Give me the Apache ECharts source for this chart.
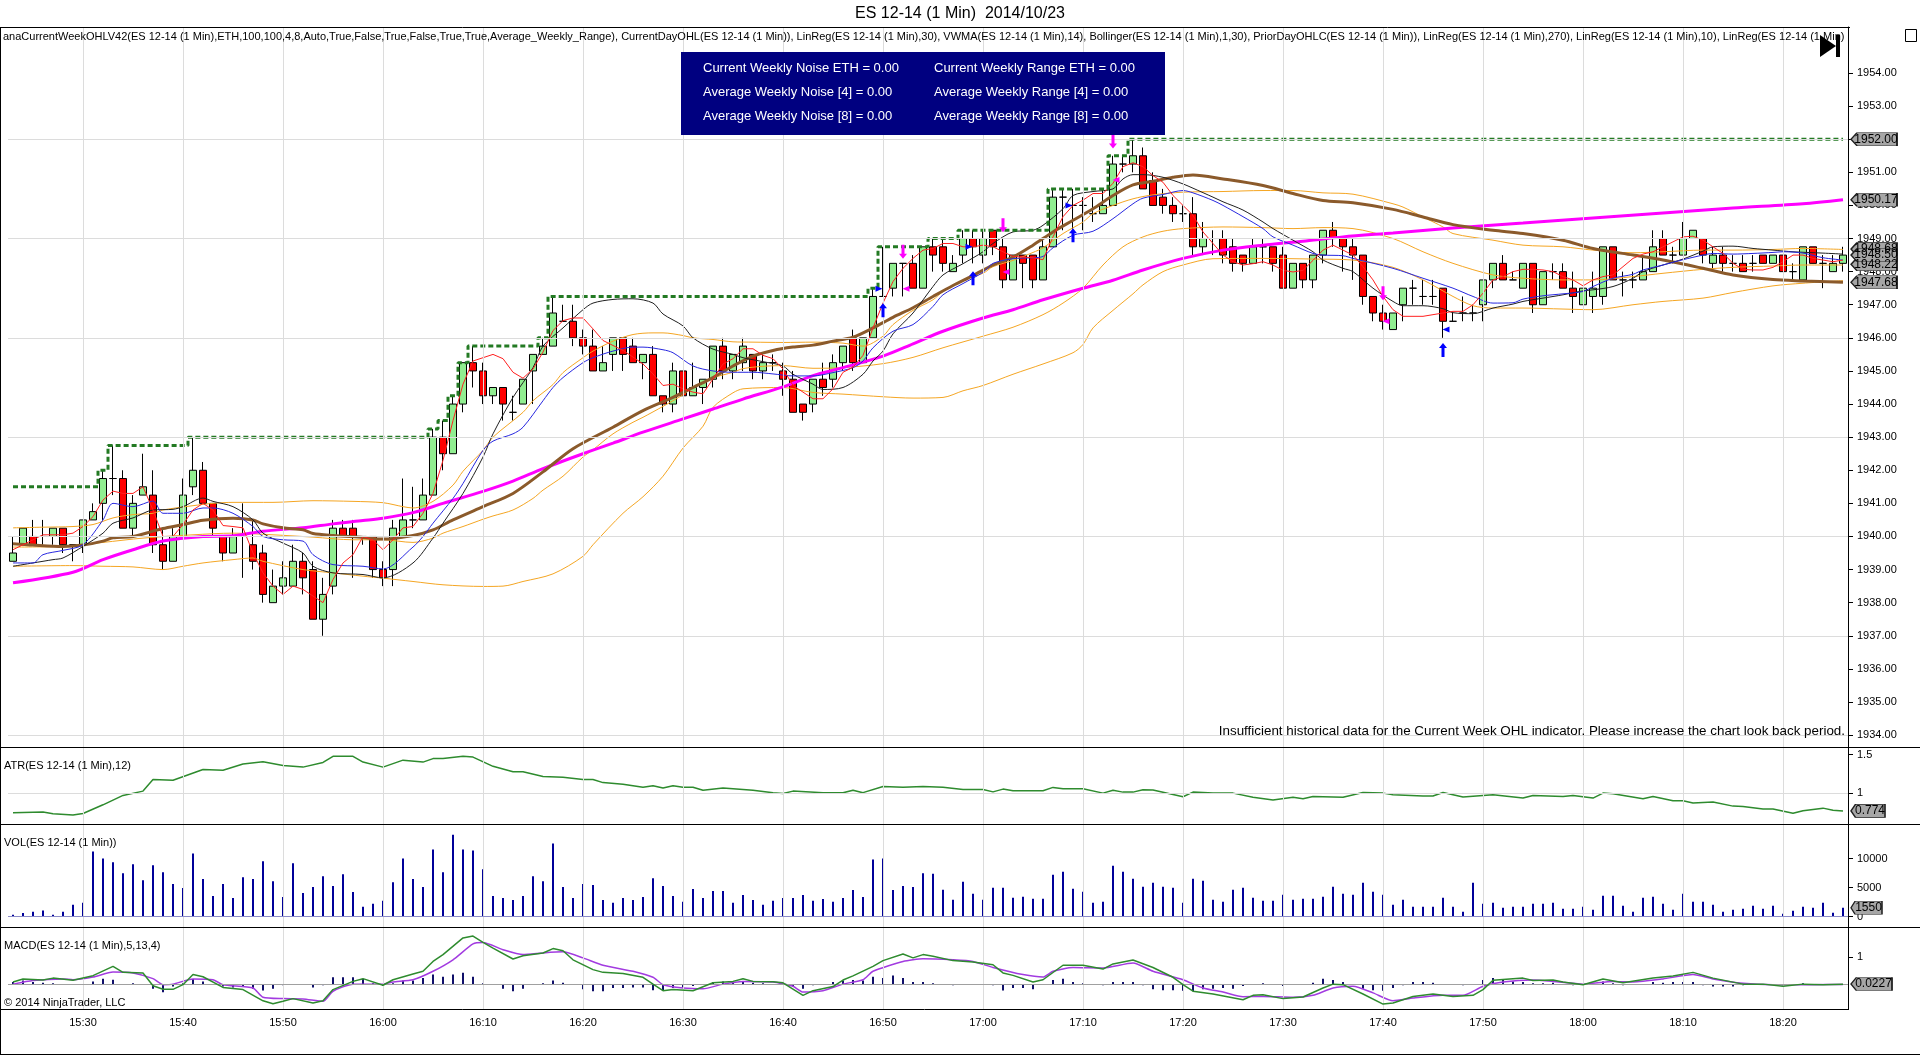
<!DOCTYPE html>
<html><head><meta charset="utf-8">
<script src="https://cdn.jsdelivr.net/npm/echarts@6/dist/echarts.min.js"></script>
<style>html,body{margin:0;padding:0;background:#fff;overflow:hidden}#c{width:1920px;height:1055px}</style>
</head><body><div id="c"></div>
<script>
// ---------- categories (1-minute bars from 15:23 to 18:26) ----------
const categories = [];
for (let k = 0; k < 184; k++) { const t = 15 * 60 + 23 + k; categories.push(Math.floor(t / 60) + ':' + String(t % 60).padStart(2, '0')); }

// ---------- price bars ----------
const opens = [
1939.25,1939.75,1940.0,1940.0,1940.0,1940.25,1939.75,1939.75,1940.5,1941.0,
1941.75,1941.75,1940.25,1941.25,1941.25,1939.75,1939.25,1940.0,1941.5,1942.0,
1941.0,1940.0,1939.5,1940.0,1939.75,1939.5,1938.0,1938.5,1938.5,1939.25,
1939.0,1937.5,1938.5,1940.25,1940.25,1940.0,1940.0,1939.0,1939.0,1940.0,
1940.5,1940.5,1941.25,1943.0,1942.5,1944.0,1945.25,1945.0,1944.25,1944.5,
1943.75,1944.0,1945.0,1945.5,1945.75,1946.5,1946.5,1946.0,1945.75,1945.0,
1945.5,1946.0,1945.75,1945.25,1945.5,1944.25,1944.0,1945.0,1944.25,1944.5,
1944.75,1945.75,1945.0,1945.25,1945.5,1945.0,1945.25,1945.0,1944.75,1944.0,
1944.0,1944.75,1944.75,1945.25,1946.0,1945.25,1946.0,1947.25,1947.5,1948.25,
1948.25,1947.5,1948.75,1948.75,1948.0,1948.5,1949.0,1948.5,1949.25,1948.75,
1947.75,1948.5,1948.5,1947.75,1948.75,1950.25,1950.0,1950.0,1949.75,1949.75,
1950.0,1951.25,1951.25,1951.5,1950.75,1950.25,1950.0,1949.75,1949.75,1948.75,
1949.0,1949.0,1948.75,1948.5,1948.25,1948.75,1948.75,1948.5,1947.5,1948.25,
1947.75,1948.5,1949.25,1949.0,1948.75,1948.5,1947.25,1946.75,1946.25,1947.0,
1947.5,1947.25,1947.25,1947.5,1946.5,1946.75,1946.75,1947.0,1947.75,1948.25,
1947.75,1947.5,1948.25,1947.0,1948.0,1948.0,1947.5,1947.0,1947.25,1947.25,
1948.75,1947.75,1947.75,1947.75,1948.0,1949.0,1948.5,1948.5,1949.0,1949.0,
1948.25,1948.5,1948.25,1948.25,1948.25,1948.5,1948.25,1948.5,1948.0,1947.75,
1948.75,1948.25,1948.0,1948.25];
const highs = [
1940.0,1940.25,1940.5,1940.5,1940.25,1940.25,1939.75,1940.5,1941.0,1942.0,
1942.75,1942.0,1941.25,1942.5,1942.0,1940.25,1940.25,1941.75,1943.0,1942.25,
1941.0,1940.0,1940.25,1941.0,1940.5,1939.75,1939.0,1939.25,1939.75,1939.5,
1939.25,1938.75,1940.5,1940.5,1940.5,1940.0,1940.0,1939.25,1940.5,1941.75,
1941.5,1941.75,1943.25,1943.5,1944.25,1945.25,1945.75,1945.25,1944.5,1944.5,
1944.25,1944.75,1945.5,1946.0,1947.25,1947.0,1947.0,1946.25,1946.25,1945.75,
1946.0,1946.0,1946.0,1945.5,1945.75,1944.25,1945.25,1945.0,1945.25,1944.75,
1945.75,1946.0,1945.5,1946.0,1945.5,1945.5,1945.5,1945.25,1945.0,1944.0,
1944.75,1945.25,1945.5,1945.75,1946.25,1946.0,1947.5,1948.75,1948.25,1948.25,
1948.5,1948.75,1949.0,1949.0,1948.5,1949.25,1949.25,1949.25,1949.25,1949.0,
1948.5,1948.5,1948.5,1949.0,1950.5,1950.5,1950.5,1950.25,1950.25,1950.5,
1951.5,1951.5,1952.0,1951.75,1951.0,1950.5,1950.25,1950.0,1950.25,1949.5,
1949.25,1949.25,1949.0,1948.5,1949.0,1949.0,1948.75,1948.75,1948.25,1948.25,
1948.5,1949.25,1949.5,1949.0,1949.0,1948.5,1947.25,1947.0,1946.75,1947.5,
1947.75,1947.75,1947.75,1947.5,1946.75,1947.25,1947.0,1947.75,1948.25,1948.5,
1948.0,1948.25,1948.25,1948.0,1948.25,1948.25,1948.0,1947.5,1948.0,1948.75,
1948.75,1948.0,1948.0,1948.5,1949.25,1949.25,1948.75,1949.5,1949.25,1949.0,
1948.75,1948.75,1948.5,1948.5,1948.5,1948.5,1948.5,1948.5,1948.25,1948.75,
1948.75,1948.5,1948.5,1948.75];
const lows = [
1939.25,1939.75,1939.75,1939.75,1939.75,1939.5,1939.25,1939.5,1940.5,1940.5,
1941.25,1940.25,1940.0,1941.25,1939.5,1939.0,1939.25,1940.0,1941.25,1941.0,
1940.0,1939.25,1939.5,1938.75,1939.0,1938.0,1938.0,1938.25,1938.5,1938.25,
1937.5,1937.0,1938.25,1940.0,1938.75,1939.75,1938.75,1938.5,1938.5,1940.0,
1940.25,1940.5,1941.25,1942.0,1942.5,1943.75,1944.5,1944.0,1944.0,1943.5,
1943.5,1944.0,1944.0,1945.5,1945.75,1946.5,1945.75,1945.5,1945.0,1945.0,
1945.0,1945.0,1945.25,1944.75,1944.25,1943.75,1943.75,1944.25,1944.25,1944.0,
1944.5,1944.75,1944.75,1945.0,1944.75,1944.75,1945.0,1944.25,1943.75,1943.5,
1943.75,1944.25,1944.5,1945.0,1945.0,1945.25,1946.0,1947.25,1947.25,1947.25,
1947.5,1947.5,1948.0,1948.0,1948.0,1948.25,1948.25,1948.25,1948.5,1947.5,
1947.75,1947.5,1947.5,1947.75,1948.75,1949.25,1949.25,1949.25,1949.5,1949.75,
1950.0,1951.0,1951.0,1950.5,1950.0,1949.75,1949.5,1949.5,1948.5,1948.5,
1948.5,1948.25,1948.0,1948.0,1948.25,1948.25,1948.0,1947.5,1947.5,1947.5,
1947.5,1948.25,1948.75,1948.0,1947.75,1947.0,1946.5,1946.25,1946.25,1946.5,
1947.0,1947.0,1947.0,1946.0,1946.5,1946.5,1946.5,1946.5,1947.5,1947.75,
1947.75,1947.5,1946.75,1947.0,1947.75,1947.5,1946.75,1947.0,1946.75,1947.0,
1947.75,1947.25,1947.5,1947.75,1948.0,1948.5,1948.25,1948.5,1949.0,1948.25,
1948.0,1948.0,1948.0,1948.0,1948.0,1948.25,1948.25,1948.0,1947.75,1947.75,
1948.25,1947.5,1948.0,1948.0];
const closes = [
1939.5,1940.25,1939.75,1940.0,1940.25,1939.75,1939.75,1940.5,1940.75,1941.75,
1941.75,1940.25,1941.0,1941.5,1939.75,1939.25,1940.0,1941.25,1942.0,1941.0,
1940.25,1939.5,1940.0,1940.0,1939.25,1938.25,1938.5,1938.75,1939.25,1938.75,
1937.5,1938.25,1940.25,1940.0,1940.0,1940.0,1939.0,1938.75,1940.25,1940.5,
1940.5,1941.25,1943.0,1942.5,1944.0,1945.25,1945.0,1944.25,1944.5,1944.0,
1943.75,1944.75,1945.5,1945.75,1946.75,1946.5,1946.0,1945.75,1945.0,1945.25,
1946.0,1945.5,1945.25,1945.5,1944.25,1944.0,1945.0,1944.25,1944.5,1944.75,
1945.75,1945.0,1945.5,1945.75,1945.0,1945.25,1945.25,1944.75,1943.75,1943.75,
1944.75,1944.5,1945.25,1945.75,1945.25,1946.0,1947.25,1947.25,1948.25,1948.25,
1947.5,1948.75,1948.5,1948.25,1948.25,1949.0,1948.75,1949.0,1948.75,1947.75,
1948.5,1948.25,1947.75,1948.75,1950.25,1950.25,1950.0,1950.0,1949.75,1950.0,
1951.25,1951.25,1951.5,1950.5,1950.0,1950.0,1949.75,1949.75,1948.75,1949.0,
1949.0,1948.5,1948.25,1948.25,1948.75,1948.75,1948.25,1947.5,1948.25,1947.75,
1948.5,1949.25,1949.0,1948.75,1948.5,1947.25,1946.75,1946.5,1946.75,1947.5,
1947.5,1947.25,1947.25,1946.5,1946.5,1946.75,1946.75,1947.75,1948.25,1947.75,
1947.75,1948.25,1947.0,1948.0,1948.0,1947.5,1947.25,1947.5,1947.5,1948.75,
1947.75,1947.75,1947.75,1948.0,1948.75,1948.5,1948.5,1949.0,1949.25,1948.5,
1948.5,1948.25,1948.25,1948.0,1948.25,1948.25,1948.5,1948.0,1948.0,1948.75,
1948.25,1948.25,1948.25,1948.5];

// ---------- overlay indicators: [bar index, value] ----------
const linReg270 = [[0,1938.6],[6,1938.92],[9,1939.3],[12,1939.6],[15,1939.86],[19,1940.0],[22,1940.02],[25,1940.16],[29,1940.26],[32,1940.38],[35,1940.48],[37,1940.55],[40,1940.72],[43,1941.0],[47,1941.36],[50,1941.67],[53,1942.05],[57,1942.5],[60,1942.82],[63,1943.15],[67,1943.55],[70,1943.85],[73,1944.15],[77,1944.52],[80,1944.86],[83,1945.1],[87,1945.45],[90,1945.82],[93,1946.2],[97,1946.6],[100,1946.85],[103,1947.15],[107,1947.5],[110,1947.74],[113,1948.05],[117,1948.4],[121,1948.65],[125,1948.8],[129,1948.92],[133,1949.05],[138,1949.17],[144,1949.32],[151,1949.47],[158,1949.62],[165,1949.77],[172,1949.92],[179,1950.05],[183,1950.17]];
const linRegBrown = [[0,1939.78],[2,1939.74],[5,1939.7],[7,1939.74],[9,1939.86],[10,1939.96],[12,1940.0],[14,1940.16],[15,1940.24],[17,1940.36],[19,1940.49],[22,1940.55],[24,1940.5],[25,1940.38],[27,1940.26],[29,1940.2],[30,1940.09],[32,1940.03],[35,1939.97],[37,1939.92],[40,1940.03],[42,1940.2],[44,1940.5],[47,1940.9],[50,1941.3],[53,1941.95],[56,1942.65],[60,1943.3],[63,1943.8],[66,1944.2],[68,1944.5],[70,1944.8],[72,1945.15],[74,1945.45],[76,1945.62],[78,1945.72],[80,1945.78],[82,1945.9],[84,1946.02],[86,1946.3],[88,1946.62],[90,1946.91],[92,1947.25],[94,1947.58],[96,1947.88],[98,1948.2],[100,1948.44],[102,1948.8],[104,1949.2],[106,1949.55],[108,1949.9],[110,1950.3],[112,1950.62],[114,1950.73],[116,1950.85],[118,1950.92],[121,1950.8],[125,1950.6],[128,1950.36],[131,1950.15],[134,1950.08],[138,1949.88],[141,1949.65],[144,1949.42],[148,1949.25],[151,1949.15],[155,1948.95],[158,1948.7],[162,1948.5],[165,1948.35],[169,1948.1],[172,1947.9],[176,1947.76],[179,1947.72],[183,1947.68]];
const linReg30 = [[0,1939.1],[2,1939.2],[4,1939.3],[5,1939.35],[7,1939.7],[9,1940.1],[10,1940.4],[12,1940.56],[14,1940.8],[16,1940.82],[17,1940.9],[19,1941.16],[20,1941.06],[22,1940.9],[24,1940.5],[25,1940.1],[27,1939.8],[29,1939.5],[30,1939.1],[32,1938.9],[35,1938.85],[37,1938.75],[40,1939.2],[42,1939.95],[43,1940.4],[45,1941.3],[47,1942.4],[48,1943.1],[50,1944.2],[52,1945.1],[53,1945.75],[55,1946.3],[57,1946.85],[58,1947.05],[60,1947.16],[62,1947.18],[64,1947.05],[65,1946.72],[67,1946.36],[68,1946.0],[70,1945.66],[72,1945.5],[73,1945.4],[75,1945.28],[77,1945.15],[78,1944.9],[80,1944.6],[81,1944.44],[83,1944.5],[85,1944.9],[86,1945.3],[87,1945.6],[88,1946.12],[90,1946.75],[92,1947.55],[93,1947.9],[95,1948.24],[97,1948.6],[98,1948.85],[100,1949.2],[102,1949.25],[103,1949.4],[105,1949.9],[106,1950.3],[108,1950.42],[110,1950.5],[111,1950.8],[112,1950.93],[113,1950.93],[115,1950.85],[117,1950.65],[118,1950.52],[120,1950.25],[121,1950.11],[123,1949.86],[125,1949.5],[126,1949.3],[128,1948.95],[130,1948.6],[131,1948.35],[133,1948.1],[134,1948.0],[136,1947.5],[138,1947.1],[139,1946.97],[141,1946.97],[143,1946.88],[144,1946.76],[146,1946.73],[148,1946.9],[150,1947.02],[151,1947.1],[153,1947.2],[155,1947.3],[157,1947.42],[158,1947.45],[160,1947.55],[162,1947.8],[163,1948.0],[165,1948.2],[167,1948.38],[169,1948.62],[170,1948.75],[172,1948.77],[174,1948.7],[176,1948.65],[178,1948.6],[181,1948.56],[183,1948.53]];
const vwma14 = [[0,1939.2],[2,1939.2],[3,1939.45],[5,1939.58],[7,1939.75],[9,1940.5],[10,1941.0],[12,1940.9],[14,1941.07],[15,1940.7],[17,1940.7],[19,1940.86],[20,1940.86],[22,1940.7],[24,1940.3],[25,1940.0],[27,1939.9],[29,1939.86],[30,1939.45],[32,1939.15],[35,1939.1],[37,1939.02],[40,1939.68],[41,1940.0],[42,1940.4],[44,1941.15],[45,1941.6],[47,1942.6],[48,1942.88],[50,1943.1],[51,1943.3],[53,1944.1],[54,1944.5],[55,1944.8],[57,1945.25],[58,1945.4],[60,1945.6],[62,1945.72],[63,1945.72],[65,1945.64],[66,1945.55],[68,1945.15],[70,1945.0],[72,1944.96],[74,1944.96],[76,1944.91],[78,1944.85],[80,1944.85],[82,1944.95],[84,1945.1],[85,1945.3],[86,1945.7],[88,1946.2],[90,1946.4],[92,1946.95],[93,1947.3],[95,1947.64],[97,1947.98],[98,1948.25],[100,1948.39],[102,1948.42],[103,1948.46],[104,1948.72],[106,1949.1],[108,1949.22],[110,1949.6],[112,1950.05],[113,1950.22],[115,1950.33],[117,1950.45],[118,1950.38],[120,1950.15],[121,1950.0],[123,1949.66],[125,1949.3],[126,1949.05],[128,1948.8],[130,1948.55],[131,1948.5],[133,1948.48],[134,1948.4],[138,1948.1],[141,1947.8],[144,1947.5],[146,1947.25],[148,1947.05],[150,1947.06],[151,1947.17],[153,1947.27],[155,1947.33],[157,1947.4],[158,1947.55],[160,1947.8],[162,1947.92],[163,1948.05],[165,1948.2],[167,1948.36],[169,1948.5],[170,1948.55],[172,1948.53],[174,1948.55],[176,1948.58],[177,1948.6],[179,1948.56],[181,1948.42],[183,1948.35]];
const linReg10 = [[0,1939.6],[1,1939.75],[3,1940.05],[5,1940.05],[6,1940.1],[7,1940.3],[8,1940.6],[9,1941.1],[10,1941.37],[11,1941.3],[12,1941.3],[13,1941.5],[14,1940.8],[15,1940.0],[16,1940.0],[17,1940.36],[18,1940.8],[19,1941.0],[20,1940.8],[21,1940.33],[22,1940.3],[23,1940.26],[24,1939.5],[25,1938.9],[26,1938.5],[27,1938.25],[28,1938.5],[29,1938.4],[30,1938.2],[31,1938.0],[32,1938.7],[33,1939.2],[34,1939.45],[35,1940.0],[36,1939.9],[37,1939.6],[38,1939.9],[39,1940.26],[40,1940.3],[41,1940.7],[42,1941.3],[43,1942.3],[44,1943.5],[45,1944.6],[46,1945.3],[47,1945.4],[48,1945.5],[49,1945.37],[50,1944.96],[51,1944.78],[52,1945.06],[53,1945.57],[54,1946.22],[55,1946.52],[56,1946.6],[57,1946.6],[58,1946.27],[59,1945.92],[60,1945.77],[61,1945.62],[62,1945.42],[63,1945.21],[64,1944.91],[65,1944.56],[66,1944.6],[67,1944.46],[68,1944.36],[69,1944.31],[70,1944.76],[71,1945.21],[72,1945.37],[73,1945.67],[74,1945.67],[75,1945.47],[76,1945.37],[77,1945.06],[78,1944.56],[79,1944.36],[80,1944.16],[81,1944.16],[82,1944.46],[83,1944.96],[84,1945.11],[85,1945.47],[86,1946.3],[87,1947.05],[88,1947.7],[89,1948.1],[90,1948.4],[91,1948.65],[92,1948.7],[93,1948.85],[94,1948.85],[95,1948.75],[96,1948.75],[97,1948.8],[98,1948.75],[99,1948.6],[100,1948.46],[101,1948.44],[102,1948.42],[103,1948.36],[104,1949.05],[105,1949.66],[106,1950.0],[107,1950.16],[108,1950.36],[109,1950.36],[110,1950.67],[111,1951.17],[112,1951.29],[113,1951.17],[114,1950.9],[115,1950.7],[116,1950.3],[117,1950.0],[118,1949.7],[119,1949.2],[120,1948.85],[121,1948.5],[122,1948.3],[123,1948.2],[124,1948.24],[125,1948.3],[126,1948.2],[127,1948.04],[128,1947.99],[129,1948.04],[130,1948.34],[131,1948.65],[132,1948.8],[133,1948.65],[134,1948.5],[135,1948.15],[136,1947.75],[137,1947.25],[138,1946.85],[139,1946.65],[140,1946.65],[141,1946.65],[142,1946.7],[143,1946.75],[144,1946.8],[145,1946.8],[146,1947.0],[147,1947.35],[148,1947.75],[149,1947.85],[150,1948.0],[151,1948.07],[152,1948.07],[153,1948.05],[154,1948.0],[155,1947.85],[156,1947.75],[157,1947.57],[158,1947.75],[159,1947.85],[160,1947.9],[161,1948.15],[162,1948.4],[163,1948.53],[164,1948.6],[165,1948.75],[166,1948.9],[167,1949.05],[168,1949.07],[169,1948.95],[170,1948.75],[171,1948.55],[172,1948.25],[173,1948.07],[174,1948.05],[175,1948.05],[176,1948.13],[177,1948.3],[178,1948.5],[179,1948.5],[180,1948.4],[181,1948.35],[182,1948.3],[183,1948.35]];
const bollUpper = [[0,1940.26],[3,1940.28],[6,1940.3],[8,1940.36],[10,1940.56],[12,1940.66],[14,1940.7],[15,1940.8],[18,1940.93],[20,1941.0],[22,1941.03],[26,1941.03],[30,1941.08],[34,1941.06],[37,1941.02],[39,1940.9],[40,1940.86],[42,1941.06],[44,1941.55],[45,1941.97],[47,1942.6],[48,1943.0],[51,1943.75],[52,1944.1],[54,1944.59],[55,1944.95],[57,1945.4],[58,1945.6],[60,1945.9],[62,1946.1],[64,1946.15],[65,1946.15],[67,1946.07],[68,1946.0],[70,1945.95],[72,1945.88],[74,1945.87],[77,1945.86],[80,1945.87],[83,1945.84],[85,1945.75],[87,1946.05],[88,1946.4],[90,1946.83],[92,1947.15],[93,1947.4],[95,1947.74],[97,1947.95],[98,1948.15],[100,1948.34],[102,1948.58],[103,1948.72],[105,1949.15],[107,1949.5],[108,1949.75],[110,1950.0],[112,1950.2],[114,1950.32],[117,1950.4],[121,1950.42],[125,1950.45],[128,1950.45],[131,1950.38],[134,1950.34],[138,1950.05],[139,1949.95],[141,1949.65],[143,1949.35],[144,1949.15],[148,1948.95],[151,1948.8],[155,1948.75],[158,1948.65],[162,1948.57],[165,1948.6],[169,1948.65],[172,1948.65],[176,1948.67],[179,1948.7],[183,1948.67]];
const bollMiddle = [[0,1939.68],[5,1939.7],[9,1939.82],[13,1939.95],[18,1940.05],[22,1940.1],[26,1940.05],[30,1939.98],[34,1939.9],[37,1939.9],[40,1939.82],[42,1939.95],[43,1940.1],[45,1940.3],[47,1940.52],[48,1940.62],[50,1940.8],[52,1941.15],[53,1941.4],[55,1941.82],[57,1942.4],[58,1942.62],[60,1943.1],[62,1943.45],[63,1943.6],[65,1943.93],[67,1944.28],[68,1944.5],[70,1944.79],[72,1944.96],[73,1945.07],[75,1945.14],[77,1945.16],[80,1945.08],[83,1945.1],[87,1945.22],[90,1945.41],[93,1945.7],[97,1946.05],[100,1946.32],[103,1946.7],[105,1947.05],[107,1947.5],[109,1948.2],[111,1948.75],[113,1949.05],[115,1949.22],[117,1949.3],[121,1949.35],[125,1949.33],[128,1949.3],[131,1949.33],[134,1949.3],[138,1949.0],[141,1948.6],[144,1948.25],[148,1947.9],[151,1947.8],[155,1947.75],[158,1947.75],[162,1947.85],[165,1947.95],[169,1948.07],[172,1948.13],[176,1948.17],[179,1948.2],[183,1948.2]];
const bollLower = [[0,1939.1],[6,1939.12],[9,1939.1],[12,1939.08],[15,1939.0],[17,1939.1],[19,1939.2],[22,1939.3],[24,1939.35],[25,1939.25],[29,1939.0],[32,1938.9],[35,1938.8],[37,1938.74],[40,1938.64],[43,1938.54],[47,1938.49],[49,1938.5],[51,1938.64],[54,1938.87],[57,1939.4],[58,1939.75],[61,1940.7],[63,1941.2],[65,1941.82],[67,1942.67],[69,1943.33],[70,1943.9],[72,1944.34],[73,1944.46],[77,1944.5],[80,1944.35],[83,1944.3],[87,1944.22],[90,1944.18],[93,1944.2],[95,1944.4],[97,1944.56],[100,1944.9],[103,1945.21],[106,1945.55],[107,1945.8],[108,1946.3],[110,1946.83],[112,1947.33],[113,1947.6],[115,1948.0],[117,1948.2],[120,1948.39],[125,1948.4],[130,1948.38],[134,1948.35],[138,1948.13],[141,1947.75],[144,1947.25],[146,1946.97],[148,1946.9],[151,1946.9],[155,1946.87],[158,1946.85],[162,1947.0],[165,1947.1],[169,1947.2],[172,1947.37],[176,1947.57],[179,1947.65],[183,1947.73]];
// current-day high: [bar index where the new high starts, value]
const dayHighSteps = [[0,1941.5],[9,1942.0],[10,1942.75],[18,1943.0],[42,1943.25],[43,1943.5],[44,1944.25],[45,1945.25],[46,1945.75],[53,1946.0],[54,1947.25],[86,1947.5],[87,1948.75],[92,1949.0],[95,1949.25],[104,1950.5],[110,1951.5],[112,1952.0],[183,1952.0]];

// signal markers [bar index, price]
const upArrows = [[87,1946.83],[96,1947.8],[106,1949.1],[143,1945.63]];
const downArrows = [[89,1948.6],[99,1949.4],[110,1951.93],[137,1947.35]];
const rightTriangles = [[87,1947.48],[96,1948.75],[106,1950.0]];
const leftTrianglesBlue = [[143,1946.25]];
const leftTrianglesPink = [[89,1947.48],[99,1947.99],[110,1950.77],[137,1946.5]];

// axis values
const priceLabels = [1934,1935,1936,1937,1938,1939,1940,1941,1942,1943,1944,1945,1946,1947,1948,1949,1950,1951,1952,1953,1954];
const priceGrid = [1934,1937,1940,1943,1946,1949,1952];
const priceTags = [1952.00, 1950.17, 1948.68, 1948.22, 1947.68, 1948.50];

// ---------- ATR ----------
const atr = [[0,0.75],[3,0.76],[4,0.737],[6,0.72],[7,0.74],[9,0.853],[11,0.974],[13,1.03],[14,1.18],[16,1.17],[19,1.31],[21,1.30],[23,1.38],[25,1.41],[27,1.36],[29,1.34],[31,1.40],[32,1.48],[34,1.48],[35,1.405],[37,1.34],[39,1.43],[41,1.405],[42,1.45],[43,1.45],[45,1.48],[46,1.47],[48,1.35],[50,1.28],[51,1.28],[53,1.22],[55,1.21],[57,1.18],[58,1.18],[59,1.14],[61,1.12],[63,1.08],[64,1.10],[65,1.07],[66,1.10],[67,1.08],[68,1.08],[69,1.04],[71,1.07],[72,1.06],[74,1.04],[76,1.01],[77,1.0],[78,1.03],[81,1.01],[83,1.01],[84,1.04],[85,1.01],[87,1.09],[89,1.08],[91,1.09],[93,1.08],[95,1.05],[97,1.05],[98,1.02],[99,1.056],[100,1.034],[103,1.034],[104,1.078],[105,1.06],[107,1.06],[109,1.004],[110,1.04],[111,1.017],[112,1.017],[113,1.047],[114,1.043],[117,0.957],[118,1.017],[120,1.004],[122,1.004],[124,0.95],[126,0.914],[128,0.95],[129,0.93],[130,0.96],[133,0.95],[135,1.013],[137,1.004],[138,0.983],[141,0.966],[142,0.966],[143,1.013],[145,0.953],[148,0.983],[151,0.94],[152,0.974],[155,0.96],[156,0.974],[158,0.94],[159,1.004],[160,0.996],[163,0.93],[164,0.96],[166,0.905],[167,0.905],[168,0.875],[170,0.888],[172,0.836],[173,0.83],[175,0.8],[176,0.8],[178,0.745],[179,0.776],[181,0.81],[182,0.784],[183,0.774]];
const atrLast = 0.774;

// ---------- Volume ----------
const volume = [340,620,850,1080,340,850,2050,2390,11250,10050,9370,7500,9030,6300,8860,7670,5620,4940,10900,6480,3580,5620,3240,6820,6480,9540,6130,3410,9200,4090,5110,6990,5280,7330,4260,1700,2220,2730,5960,10050,6480,5110,11590,7670,14140,11590,11420,8180,3580,3240,2900,3580,6990,6130,12610,5110,3240,5620,5450,2900,2390,3240,2900,3410,6650,5280,3580,2560,4770,3240,4430,4430,2390,3750,2900,2050,2730,3240,3240,3750,2730,3070,2560,3240,4600,3410,9880,10050,4600,5280,5110,7500,
7420,4660,2930,6040,3970,2930,5000,5000,3280,3450,3100,3100,7250,7760,4830,4310,2420,2590,8800,7760,6560,5180,5870,5180,5000,2420,6560,6210,2930,2590,4660,5000,3280,2760,2760,3800,2930,3100,3100,3450,5180,3970,3800,5870,4310,3800,2070,2930,1730,1730,1730,3280,1730,860,5870,2240,2420,1550,1730,1730,2240,2240,2420,1380,1380,1730,1210,3620,3620,1900,860,3280,3450,2240,1210,3970,2590,2590,2070,860,1210,1380,1900,1380,1900,520,1040,1730,1550,2420,690,1550];
const volLast = 1550;

// ---------- MACD(5,13,4) ----------
const macdLine = [[0,0.1],[1,0.21],[3,0.17],[4,0.24],[6,0.16],[8,0.33],[10,0.67],[11,0.45],[13,0.43],[14,-0.04],[15,-0.17],[16,-0.17],[17,0.0],[18,0.37],[19,0.29],[21,-0.1],[23,-0.18],[25,-0.59],[26,-0.7],[27,-0.61],[28,-0.51],[30,-0.67],[31,-0.59],[32,-0.18],[34,0.12],[35,0.22],[37,-0.02],[38,0.18],[40,0.39],[41,0.49],[42,0.85],[43,1.1],[45,1.71],[46,1.78],[47,1.55],[48,1.34],[50,0.94],[51,1.06],[53,1.16],[54,1.32],[55,1.24],[56,0.91],[58,0.55],[59,0.45],[61,0.41],[63,0.27],[64,0.02],[65,-0.22],[66,-0.18],[68,-0.22],[70,0.07],[72,0.12],[73,0.22],[74,0.12],[76,0.11],[77,0.07],[78,-0.16],[79,-0.39],[80,-0.22],[82,-0.07],[83,0.17],[84,0.32],[86,0.67],[87,0.88],[89,1.12],[90,0.98],[91,1.1],[92,1.04],[94,0.88],[96,0.83],[98,0.73],[99,0.43],[100,0.34],[102,0.1],[103,0.18],[105,0.71],[107,0.71],[109,0.57],[110,0.76],[112,0.9],[114,0.63],[116,0.27],[117,0.0],[118,-0.24],[120,-0.34],[123,-0.55],[124,-0.39],[125,-0.37],[127,-0.51],[129,-0.45],[131,-0.12],[132,0.02],[133,0.0],[135,-0.34],[137,-0.71],[138,-0.67],[140,-0.43],[142,-0.34],[144,-0.43],[146,-0.39],[147,-0.18],[148,0.16],[151,0.24],[152,0.15],[154,0.17],[155,0.1],[157,0.0],[159,0.21],[161,0.07],[164,0.24],[166,0.32],[168,0.45],[170,0.24],[173,0.02],[175,0.02],[177,-0.06],[179,0.02],[181,0.0],[183,0.02]];
const macdAvg = [[0,0.02],[2,0.15],[5,0.21],[6,0.18],[8,0.28],[10,0.46],[12,0.43],[14,0.22],[15,0.0],[16,0.02],[18,0.21],[20,0.18],[21,0.0],[24,-0.12],[25,-0.46],[27,-0.51],[29,-0.52],[31,-0.61],[32,-0.24],[34,0.02],[37,0.02],[38,0.1],[40,0.18],[42,0.49],[44,0.91],[46,1.49],[47,1.54],[49,1.28],[51,1.1],[53,1.16],[55,1.2],[57,0.98],[59,0.71],[62,0.49],[64,0.27],[65,0.0],[67,-0.12],[69,-0.15],[71,0.02],[73,0.12],[76,0.1],[78,-0.06],[79,-0.27],[81,-0.22],[83,0.02],[85,0.18],[86,0.49],[89,0.85],[91,0.95],[94,0.91],[96,0.85],[98,0.63],[101,0.37],[103,0.28],[104,0.49],[106,0.63],[109,0.61],[112,0.79],[114,0.49],[117,0.18],[119,-0.12],[121,-0.27],[123,-0.44],[125,-0.43],[128,-0.46],[130,-0.39],[132,-0.12],[134,-0.06],[136,-0.3],[138,-0.59],[140,-0.49],[143,-0.39],[145,-0.39],[147,-0.06],[149,0.1],[152,0.17],[154,0.12],[157,0.02],[160,0.12],[162,0.1],[165,0.21],[168,0.37],[170,0.21],[173,0.05],[176,0.0],[180,0.0],[183,0.01]];
const macdDiff = [0.1,0.15,0.1,0.07,0.05,0,0,0.02,0.12,0.22,0.18,0.02,0.05,0,-0.15,-0.28,-0.07,0.05,0.21,0.12,0,-0.07,-0.1,-0.07,-0.15,-0.21,-0.15,-0.02,0,0.02,-0.1,-0.02,0.27,0.27,0.27,0.21,0.05,-0.05,0.05,0.15,0.15,0.24,0.37,0.29,0.37,0.44,0.29,0.05,0,-0.15,-0.24,-0.15,0,0.05,0.15,0.07,0,-0.17,-0.24,-0.24,-0.12,-0.12,-0.1,-0.1,-0.2,-0.22,-0.12,-0.1,-0.05,0,0.1,0.12,0.1,0.1,0.07,0.05,0.02,0,-0.07,-0.15,-0.02,0,0.1,0.15,0.17,0.15,0.29,0.24,0.34,0.24,0.1,0.1,
0.05,0,-0.02,0,0,0,-0.02,-0.21,-0.12,-0.12,-0.17,0,0.17,0.22,0.1,0.05,0,-0.02,0.1,0.1,0.1,-0.02,-0.17,-0.2,-0.2,-0.22,-0.24,-0.17,-0.15,-0.12,-0.15,-0.05,0,0.05,0.02,-0.05,0,0,0.07,0.22,0.17,0.1,0,-0.15,-0.2,-0.22,-0.12,-0.02,0.1,0.1,0.07,0,0,-0.02,0.02,0.17,0.24,0.2,0.12,0.1,0.05,0.05,0.07,0.02,-0.02,0,0.02,0.12,0.05,-0.02,0,0.02,0.1,0.07,0.1,0.1,0.1,-0.02,-0.07,-0.07,-0.07,-0.02,0,0.02,0,-0.02,0,0.05,0,0,0,0.02];
const macdLast = 0.0227;

// ---------- texts ----------
const titleText = 'ES 12-14 (1 Min)  2014/10/23';
const indicatorText = 'anaCurrentWeekOHLV42(ES 12-14 (1 Min),ETH,100,100,4,8,Auto,True,False,True,False,True,True,Average_Weekly_Range), CurrentDayOHL(ES 12-14 (1 Min)), LinReg(ES 12-14 (1 Min),30), VWMA(ES 12-14 (1 Min),14), Bollinger(ES 12-14 (1 Min),1,30), PriorDayOHLC(ES 12-14 (1 Min)), LinReg(ES 12-14 (1 Min),270), LinReg(ES 12-14 (1 Min),10), LinReg(ES 12-14 (1 Min)';
const tableLeft = ['Current Weekly Noise ETH = 0.00', 'Average Weekly Noise [4] = 0.00', 'Average Weekly Noise [8] = 0.00'];
const tableRight = ['Current Weekly Range ETH = 0.00', 'Average Weekly Range [4] = 0.00', 'Average Weekly Range [8] = 0.00'];
const noteText = 'Insufficient historical data for the Current Week OHL indicator. Please increase the chart look back period.';

// ================= build =================
const FONT = '"Liberation Sans", Arial, sans-serif';
const last = categories.length - 1;
const tenMin = categories.filter(c => c.endsWith('0'));
const candle = opens.map((o, k) => [o, closes[k], lows[k], highs[k]]);
const stepData = [];
dayHighSteps.forEach((s, k) => {
  if (k > 0 && s[0] - 1 > dayHighSteps[k - 1][0]) stepData.push([s[0] - 1, dayHighSteps[k - 1][1]]);
  stepData.push(s);
});

const GL = { left: 8, right: 72 };
const grids = [
  { ...GL, top: 27, height: 720 },
  { ...GL, top: 747, height: 77 },
  { ...GL, top: 824, height: 103 },
  { ...GL, top: 927, height: 82 }
];
function xAx(g) {
  return {
    type: 'category', gridIndex: g, data: categories, boundaryGap: true,
    axisLine: { show: false }, axisTick: { show: false }, splitLine: { show: false },
    axisLabel: g === 3 ? { show: true, interval: (i) => categories[i].endsWith('0'), color: '#000', fontSize: 11, fontFamily: FONT, margin: 8 } : { show: false }
  };
}
function yAx(g, min, max, labels, fmt) {
  return {
    type: 'value', gridIndex: g, position: 'right', min: min, max: max,
    axisLine: { show: true, onZero: false, lineStyle: { color: '#000', width: 1 } },
    axisTick: { show: true, length: 5, customValues: labels, lineStyle: { color: '#000' } },
    axisLabel: { show: true, customValues: labels, formatter: fmt, color: '#000', fontSize: 11, fontFamily: FONT, margin: 9 },
    splitLine: { show: false }
  };
}
function gridLines(g, yVals, yColor) {
  const d = tenMin.map(c => ({ xAxis: c, lineStyle: { color: '#dcdcdc', width: 1, type: 'solid' } }));
  (yVals || []).forEach(v => d.push({ yAxis: v, lineStyle: { color: yColor || '#dcdcdc', width: 1, type: 'solid' } }));
  return {
    type: 'line', xAxisIndex: g, yAxisIndex: g, data: [], z: 1, silent: true,
    markLine: { silent: true, symbol: ['none', 'none'], label: { show: false }, animation: false, data: d }
  };
}
function ln(data, color, width, extra) {
  return Object.assign({
    type: 'line', xAxisIndex: 0, yAxisIndex: 0, data: data, showSymbol: false, symbol: 'none',
    lineStyle: { color: color, width: width }, z: 3, silent: true, smooth: 0.3
  }, extra || {});
}
const TAG = 'path://M0,6.5L6,0L46,0L46,13L6,13Z';
function tagSeries(g, vals, w, fmt) {
  return {
    type: 'scatter', xAxisIndex: g, yAxisIndex: g, z: 20, silent: true, clip: false,
    data: vals.map(v => [last, v]),
    symbol: TAG, symbolSize: [w, 13], symbolOffset: [w / 2 + 8, 0],
    itemStyle: { color: '#a6a6a6', borderColor: '#202020', borderWidth: 1, opacity: 1 },
    label: { show: true, position: 'inside', offset: [2, 0], formatter: p => fmt(p.value[1]), color: '#000', fontSize: 12, fontFamily: FONT }
  };
}
function markers(data, symbol, size, color, rot, offset) {
  return { type: 'scatter', xAxisIndex: 0, yAxisIndex: 0, z: 6, silent: true, data: data,
    symbol: symbol, symbolSize: size, symbolRotate: rot || 0, symbolOffset: offset || [0, 0],
    itemStyle: { color: color, opacity: 1 } };
}
const UP = 'path://M4,0L8,5L5.5,5L5.5,14L2.5,14L2.5,5L0,5Z';
const DOWN = 'path://M2.5,0L5.5,0L5.5,9L8,9L4,14L0,9L2.5,9Z';

const series = [
  gridLines(0, priceGrid),
  { type: 'candlestick', xAxisIndex: 0, yAxisIndex: 0, data: candle, barWidth: 7, z: 2, silent: true,
    itemStyle: { color: '#90ee90', color0: '#ff0000', borderColor: '#000', borderColor0: '#000', borderColorDoji: '#000', borderWidth: 1 } },
  ln(bollLower, '#f5a623', 1),
  ln(bollMiddle, '#f5a623', 1),
  ln(bollUpper, '#f5a623', 1),
  ln(linReg270, '#ff00ff', 3),
  ln(linRegBrown, '#8b5a2b', 3),
  ln(linReg30, '#202020', 1),
  ln(vwma14, '#2828e0', 1),
  ln(linReg10, '#ff2020', 1, { smooth: false }),
  ln(stepData, '#2e8b2e', 3, { smooth: false, step: 'middle', lineStyle: { color: '#237a23', width: 3, type: [5, 3] } }),
  markers(upArrows, UP, [8, 14], '#0000ff'),
  markers(downArrows, DOWN, [8, 14], '#ff00ff'),
  markers(rightTriangles, 'triangle', [6, 7], '#0000ff', -90, [-4, 0]),
  markers(leftTrianglesBlue, 'triangle', [6, 7], '#0000ff', 90, [3, 0]),
  markers(leftTrianglesPink, 'triangle', [6, 7], '#ff00ff', 90, [3, 0]),
  tagSeries(0, priceTags, 46, v => v.toFixed(2)),

  gridLines(1, [1]),
  { type: 'line', xAxisIndex: 1, yAxisIndex: 1, data: atr, showSymbol: false, symbol: 'none', lineStyle: { color: '#2e8b2e', width: 1.5 }, z: 3, silent: true },
  tagSeries(1, [atrLast], 34, v => String(v)),

  gridLines(2, [0], '#8c8cc8'),
  { type: 'bar', xAxisIndex: 2, yAxisIndex: 2, data: volume, barWidth: 2, itemStyle: { color: '#000099' }, z: 3, silent: true },
  tagSeries(2, [volLast], 31, v => String(v)),

  gridLines(3, [0], '#a0a0a0'),
  { type: 'bar', xAxisIndex: 3, yAxisIndex: 3, data: macdDiff, barWidth: 2, itemStyle: { color: '#10106a' }, z: 3, silent: true },
  { type: 'line', xAxisIndex: 3, yAxisIndex: 3, data: macdAvg, showSymbol: false, symbol: 'none', smooth: 0.2, lineStyle: { color: '#a23be0', width: 1.5 }, z: 4, silent: true },
  { type: 'line', xAxisIndex: 3, yAxisIndex: 3, data: macdLine, showSymbol: false, symbol: 'none', lineStyle: { color: '#2e8b2e', width: 1.5 }, z: 5, silent: true },
  tagSeries(3, [macdLast], 41, v => String(v))
];

function hline(y, x1, x2) { return { type: 'line', z: 100, silent: true, shape: { x1: x1, y1: y + 0.5, x2: x2, y2: y + 0.5 }, style: { stroke: '#000', lineWidth: 1 } }; }
function vline(x, y1, y2) { return { type: 'line', z: 100, silent: true, shape: { x1: x + 0.5, y1: y1, x2: x + 0.5, y2: y2 }, style: { stroke: '#000', lineWidth: 1 } }; }
function txt(t, x, y, size, color, align, extra) {
  return Object.assign({ type: 'text', z: 101, silent: true, x: x, y: y,
    style: { text: t, fill: color || '#000', font: size + 'px ' + FONT, textAlign: align || 'left', align: align || 'left', textVerticalAlign: 'middle', verticalAlign: 'middle' } }, extra || {});
}
const graphic = [
  txt(titleText, 960, 14, 16, '#000', 'center'),
  hline(27, 0, 1850),
  vline(0, 27, 1055),
  hline(747, 0, 1920), hline(824, 0, 1920), hline(927, 0, 1920),
  hline(1009, 0, 1849), hline(1054, 0, 1920),
  txt(indicatorText, 3, 37, 11, '#000', 'left'),
  { type: 'rect', z: 100, silent: true, shape: { x: 681, y: 52, width: 484, height: 83 }, style: { fill: '#000080' } },
  { type: 'polygon', z: 102, silent: true, shape: { points: [[1820, 35], [1836, 46], [1820, 57]] }, style: { fill: '#000' } },
  { type: 'rect', z: 102, silent: true, shape: { x: 1836, y: 35, width: 4, height: 22 }, style: { fill: '#000' } },
  { type: 'rect', z: 102, silent: true, shape: { x: 1905.5, y: 29.5, width: 11, height: 12 }, style: { fill: '#fff', stroke: '#000', lineWidth: 1 } },
  txt('F', 1911, 36, 10, '#000', 'center'),
  txt(noteText, 1845, 731, 13.4, '#000', 'right'),
  txt('ATR(ES 12-14 (1 Min),12)', 4, 766, 11),
  txt('VOL(ES 12-14 (1 Min))', 4, 843, 11),
  txt('MACD(ES 12-14 (1 Min),5,13,4)', 4, 946, 11),
  txt('\u00a9 2014 NinjaTrader, LLC', 4, 1003, 11)
];
tableLeft.forEach((t, k) => graphic.push(txt(t, 703, 68 + k * 24, 13, '#fff', 'left')));
tableRight.forEach((t, k) => graphic.push(txt(t, 934, 68 + k * 24, 13, '#fff', 'left')));

const chart = echarts.init(document.getElementById('c'), null, { renderer: 'canvas' });
chart.setOption({
  animation: false,
  backgroundColor: '#ffffff',
  textStyle: { fontFamily: FONT },
  grid: grids,
  xAxis: [0, 1, 2, 3].map(xAx),
  yAxis: [
    yAx(0, 1933.64, 1955.39, priceLabels, v => v.toFixed(2)),
    yAx(1, 0.605, 1.6, [1, 1.5], v => String(v)),
    yAx(2, -1776, 15983, [0, 5000, 10000], v => String(v)),
    yAx(3, -0.89, 2.11, [1], v => String(v))
  ],
  series: series,
  graphic: graphic
});
</script></body></html>
